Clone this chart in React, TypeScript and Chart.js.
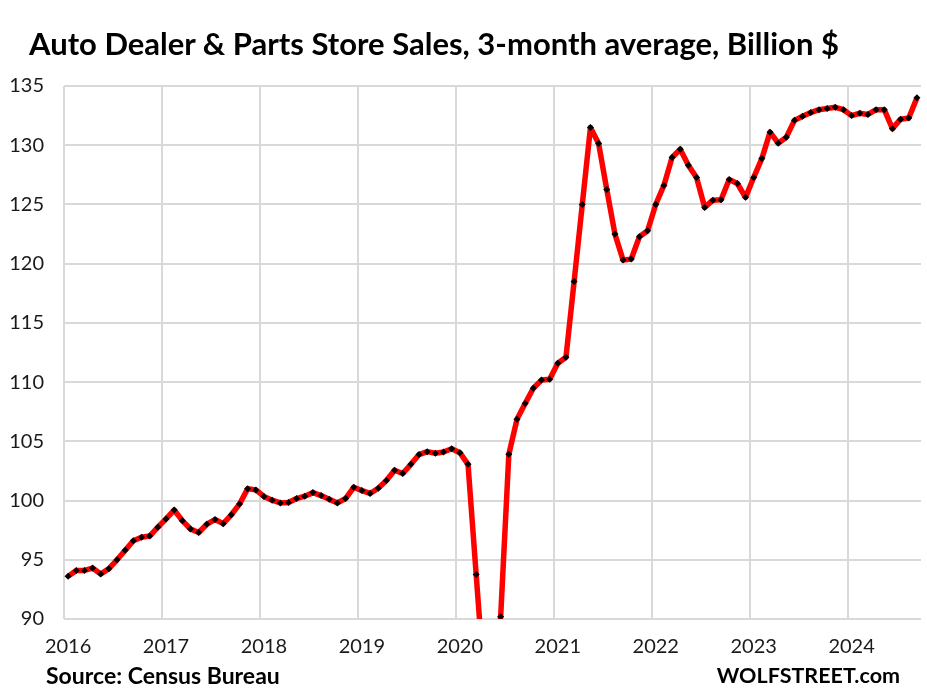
import { useEffect, useRef } from 'react'
import { Chart, registerables } from 'chart.js'

Chart.register(...registerables)

const FONT = 'Lato, "Open Sans", sans-serif'
const GRID = '#d9d9d9'

const yearLabels = ['2016', '2017', '2018', '2019', '2020', '2021', '2022', '2023', '2024']
const monthNames = ['01', '02', '03', '04', '05', '06', '07', '08', '09', '10', '11', '12']

// Monthly, Jan 2016 to Sep 2024. Apr and May 2020 are below the axis.
const sales2016 = [93.6, 94.1, 94.1, 94.3, 93.8, 94.25, 95.0, 95.8, 96.6, 96.9, 97.0, 97.75]
const sales2017 = [98.45, 99.2, 98.3, 97.6, 97.3, 98.0, 98.4, 98.05, 98.8, 99.7, 101.0, 100.9]
const sales2018 = [100.35, 100.03, 99.8, 99.83, 100.17, 100.37, 100.67, 100.42, 100.11, 99.8, 100.17, 101.12]
const sales2019 = [100.84, 100.6, 101.04, 101.69, 102.56, 102.28, 103.06, 103.88, 104.13, 104.0, 104.1, 104.38]
const sales2020 = [104.04, 103.06, 93.75, 84.5, 84.0, 90.2, 103.9, 106.86, 108.2, 109.48, 110.17, 110.25]
const sales2021 = [111.6, 112.1, 118.5, 125.0, 131.5, 130.14, 126.26, 122.5, 120.3, 120.4, 122.27, 122.78]
const sales2022 = [125.0, 126.6, 128.96, 129.66, 128.3, 127.27, 124.75, 125.36, 125.4, 127.1, 126.77, 125.6]
const sales2023 = [127.27, 128.87, 131.1, 130.17, 130.68, 132.1, 132.45, 132.76, 133.0, 133.1, 133.2, 133.0]
const sales2024 = [132.5, 132.7, 132.6, 133.0, 133.0, 131.4, 132.2, 132.3, 134.0]

const values = [
  ...sales2016, ...sales2017, ...sales2018, ...sales2019, ...sales2020,
  ...sales2021, ...sales2022, ...sales2023, ...sales2024,
]
const categories = yearLabels
  .flatMap(y => monthNames.map(m => `${y}-${m}`))
  .slice(0, values.length)

const textStyle = (extra: React.CSSProperties): React.CSSProperties => ({
  position: 'absolute',
  fontFamily: FONT,
  fontWeight: 700,
  whiteSpace: 'nowrap',
  color: '#000',
  ...extra,
})

export default function App() {
  const canvasRef = useRef<HTMLCanvasElement>(null)

  useEffect(() => {
    if (!canvasRef.current) return
    const chart = new Chart(canvasRef.current, {
      type: 'line',
      data: {
        labels: categories,
        datasets: [{
          data: values,
          borderColor: '#ff0000',
          borderWidth: 5.5,
          borderJoinStyle: 'round',
          tension: 0,
          pointStyle: 'rectRot',
          pointRadius: 3.5,
          pointBackgroundColor: '#000',
          pointBorderWidth: 0,
        }],
      },
      options: {
        responsive: false,
        animation: false,
        layout: { padding: { top: 86, right: 6, bottom: 0, left: 0 } },
        plugins: { legend: { display: false }, tooltip: { enabled: false } },
        scales: {
          x: {
            offset: true,
            afterFit: (scale: any) => {
              scale.height = 74
              // Stop the last label reserving room on the right of the plot
              scale.paddingRight = 0
              scale.paddingLeft = 0
            },
            border: { display: false },
            grid: {
              offset: true,
              drawTicks: false,
              lineWidth: 2,
              // Only the year boundaries get a line
              color: (ctx: any) => (ctx.index % 12 === 0 ? GRID : 'transparent'),
            },
            ticks: {
              autoSkip: false,
              maxRotation: 0,
              padding: 16,
              color: '#1a1a1a',
              font: { family: FONT, size: 20 },
              callback: (_v: any, i: number) => (i % 12 === 0 ? yearLabels[i / 12] : ''),
            },
          },
          y: {
            min: 90,
            max: 135,
            afterFit: (scale: any) => { scale.width = 64 },
            border: { display: false },
            grid: { color: GRID, lineWidth: 2, drawTicks: false },
            ticks: {
              stepSize: 5,
              padding: 20,
              color: '#1a1a1a',
              font: { family: FONT, size: 20 },
            },
          },
        },
      },
    })
    return () => chart.destroy()
  }, [])

  return (
    <div style={{ position: 'absolute', left: 0, top: 0, width: 927, height: 693, background: '#fff' }}>
      <canvas ref={canvasRef} width={927} height={693} style={{ display: 'block' }} />
      <div style={textStyle({ left: 29, top: 24, fontSize: 31 })}>
        Auto Dealer &amp; Parts Store Sales, 3-month average, Billion $
      </div>
      <div style={textStyle({ left: 46, top: 661, fontSize: 23 })}>Source: Census Bureau</div>
      <div style={textStyle({ right: 27, top: 662, fontSize: 21.5 })}>WOLFSTREET.com</div>
    </div>
  )
}
